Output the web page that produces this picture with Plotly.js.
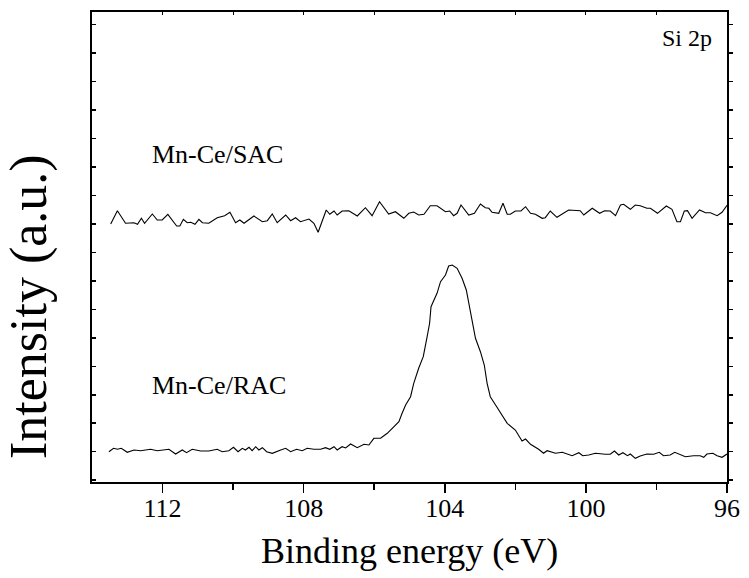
<!DOCTYPE html>
<html>
<head>
<meta charset="utf-8">
<script src="https://cdn.plot.ly/plotly-3.0.1.min.js"></script>
<style>html,body{margin:0;padding:0;background:#fff;}#chart{width:749px;height:578px;}</style>
</head>
<body>
<div id="chart"></div>
<script>
// Binding energy (eV) and intensity (a.u.)
const sacEnergy = [113.47,113.28,113.05,112.81,112.71,112.60,112.51,112.29,112.15,112.01,111.85,111.60,111.51,111.41,111.30,111.20,111.08,110.97,110.87,110.69,110.45,110.24,110.09,109.93,109.81,109.69,109.41,109.17,109.03,108.89,108.75,108.51,108.37,108.23,108.09,107.85,107.71,107.59,107.36,107.26,107.14,107.05,106.91,106.72,106.48,106.25,106.06,105.85,105.59,105.40,105.16,105.02,104.88,104.74,104.59,104.41,104.22,103.98,103.86,103.75,103.65,103.54,103.32,103.16,102.99,102.85,102.75,102.66,102.47,102.35,102.23,102.14,102.00,101.84,101.71,101.57,101.43,101.24,101.15,101.01,100.82,100.67,100.49,100.16,100.06,99.82,99.61,99.47,99.31,99.16,99.02,98.93,98.74,98.60,98.46,98.27,98.17,97.97,97.72,97.56,97.42,97.32,97.21,97.12,96.99,96.78,96.61,96.47,96.28,96.14,96.00];
const sacIntensity = [258,271.3,258.7,259.3,257.7,263.7,258.7,268,262,262,267.7,256,256,262.7,259.3,259.7,257.7,262.7,259.3,258.7,264.3,266.3,269.7,259.3,262,258.7,266,260.3,261.3,268,259.3,267,261.3,264.3,260.3,263,258.7,249.7,272,267.7,271,267,271,271.3,266,274.3,266.3,280.3,268,270.3,263.7,268.7,270,267,267.7,276.3,276.3,270.3,271,266.3,268.7,277,267,268.7,278,274.3,273.7,269.7,268.7,278.7,267.7,267.7,271,271,275.3,268.7,267.7,263.7,264.3,271,264.7,268,272,271.3,267,273.7,268.7,271.3,271,266.3,277,277.7,272.7,277,276.3,273.7,273.7,268.7,276,272.7,260.3,260.3,271,271.3,263.7,272,269.3,269.3,266.3,269.7,276.7];

const racEnergy = [113.52,113.39,113.28,113.17,113.00,112.81,112.62,112.34,112.15,111.82,111.63,111.44,111.32,111.16,110.92,110.69,110.45,110.31,110.12,109.99,109.86,109.74,109.65,109.55,109.46,109.36,109.27,109.17,109.05,108.89,108.65,108.51,108.37,108.20,108.04,107.90,107.71,107.52,107.38,107.26,107.14,107.05,106.91,106.81,106.67,106.48,106.29,106.15,106.01,105.82,105.63,105.44,105.30,105.21,105.11,104.97,104.88,104.74,104.61,104.50,104.43,104.39,104.22,104.12,103.98,103.89,103.79,103.65,103.51,103.39,103.29,103.22,103.13,102.99,102.88,102.80,102.71,102.56,102.42,102.23,102.00,101.81,101.71,101.57,101.34,101.20,101.10,100.86,100.67,100.39,100.20,100.09,99.92,99.73,99.45,99.31,99.19,99.07,98.95,98.82,98.74,98.60,98.46,98.27,98.08,97.92,97.80,97.61,97.48,97.32,97.18,96.95,96.76,96.66,96.57,96.40,96.28,96.14,96.00];
const racIntensity = [30.3,33.7,32.7,33.7,29.7,32,31.3,32.7,31.3,32.7,28,32,29.3,32.7,31,31,32.7,30.3,31.3,34.7,30.3,33.7,32,34.7,31.3,35.3,32,34.3,30.3,28.7,32,33.7,30.3,32.7,31.3,33.7,32.7,32.7,34.3,32.7,35.3,32,35.3,34,38,34.3,37.7,37,43.7,43.7,48.7,56,60.3,68.7,77,85.3,98.7,113.7,125.3,145.3,158.7,175.3,188.7,200.3,207,216,217,213.7,203.7,192,172,158.7,143.7,130.3,117,98.7,85.3,77,68.7,58.7,52,41,43,37.7,32.7,28.7,31.3,28.7,29.7,26.3,29.3,26.3,27,28.7,27.7,27.7,31,27,29.3,26.3,28,23.7,26,28,27.7,29.7,26.3,27,29.7,27,25.3,26.3,26.3,24.7,28,28.7,26.3,24.7,28];

const xTickVals = [112,108,104,100,96];
const xTickText = ["112","108","104","100","96"];
const seriesLabels = ["Mn-Ce/SAC","Mn-Ce/RAC"];
const panelLabel = "Si 2p";

const FONT = "Liberation Serif, Times New Roman, Times, serif";
const xRange = [114, 96];
const yRange = [0, 470];

const traces = [
  {x: sacEnergy, y: sacIntensity, type: 'scatter', mode: 'lines', line: {color: '#000', width: 1.1}, hoverinfo: 'skip'},
  {x: racEnergy, y: racIntensity, type: 'scatter', mode: 'lines', line: {color: '#000', width: 1.1}, hoverinfo: 'skip'},
  {x: [], y: [], xaxis: 'x2', yaxis: 'y', type: 'scatter', mode: 'lines', hoverinfo: 'skip'},
  {x: [], y: [], xaxis: 'x', yaxis: 'y2', type: 'scatter', mode: 'lines', hoverinfo: 'skip'}
];

const layout = {
  width: 749, height: 578,
  margin: {l: 92, r: 22, t: 12, b: 96},
  paper_bgcolor: '#fff', plot_bgcolor: '#fff',
  showlegend: false,
  font: {family: FONT, color: '#000'},
  xaxis: {
    range: xRange, showgrid: false, zeroline: false,
    showline: true, linecolor: '#000', linewidth: 2,
    ticks: 'outside', ticklen: 9, tickwidth: 1.5, tickcolor: '#000',
    tickvals: xTickVals, ticktext: xTickText,
    tickfont: {family: FONT, size: 26, color: '#000'},
    ticklabelstandoff: -7,
    minor: {tickvals: [110,106,102,98], ticks: 'outside', ticklen: 6, tickwidth: 1.5, tickcolor: '#000'},
    title: {text: ''}
  },
  xaxis2: {
    range: xRange, overlaying: 'x', side: 'top', anchor: 'y',
    showgrid: false, zeroline: false, showline: true, linecolor: '#000', linewidth: 2,
    ticks: 'inside', ticklen: 3, tickwidth: 1, tickcolor: '#000', dtick: 2, tick0: 96, showticklabels: false
  },
  yaxis: {
    range: yRange, showgrid: false, zeroline: false,
    showline: true, linecolor: '#000', linewidth: 2,
    ticks: 'inside', ticklen: 4, tickwidth: 1.5, tickcolor: '#000',
    tick0: 30.3, dtick: 28.47, showticklabels: false
  },
  yaxis2: {
    range: yRange, overlaying: 'y', side: 'right', anchor: 'x',
    showgrid: false, zeroline: false, showline: true, linecolor: '#000', linewidth: 2,
    ticks: 'outside', ticklen: 4, tickwidth: 1.5, tickcolor: '#000',
    tick0: 30.3, dtick: 28.47, showticklabels: false
  },
  annotations: [
    {text: panelLabel, xref: 'paper', yref: 'paper', x: 0.979, y: 0.945, xanchor: 'right', yanchor: 'middle', showarrow: false, font: {family: FONT, size: 24, color: '#000'}},
    {text: seriesLabels[0], xref: 'paper', yref: 'paper', x: 0.092, y: 0.696, xanchor: 'left', yanchor: 'middle', showarrow: false, font: {family: FONT, size: 26, color: '#000'}},
    {text: seriesLabels[1], xref: 'paper', yref: 'paper', x: 0.092, y: 0.205, xanchor: 'left', yanchor: 'middle', showarrow: false, font: {family: FONT, size: 26, color: '#000'}},
    {text: 'Binding energy (eV)', xref: 'paper', yref: 'paper', x: (409-92)/635, y: -(551-482)/470, xanchor: 'center', yanchor: 'middle', showarrow: false, font: {family: FONT, size: 36, color: '#000'}},
    {text: 'Intensity (a.u.)', xref: 'paper', yref: 'paper', x: -(92-29)/635, y: (482-307)/470, xanchor: 'center', yanchor: 'middle', textangle: -90, showarrow: false, font: {family: FONT, size: 52, color: '#000'}}
  ]
};

Plotly.newPlot('chart', traces, layout, {staticPlot: true, displayModeBar: false});
</script>
</body>
</html>
